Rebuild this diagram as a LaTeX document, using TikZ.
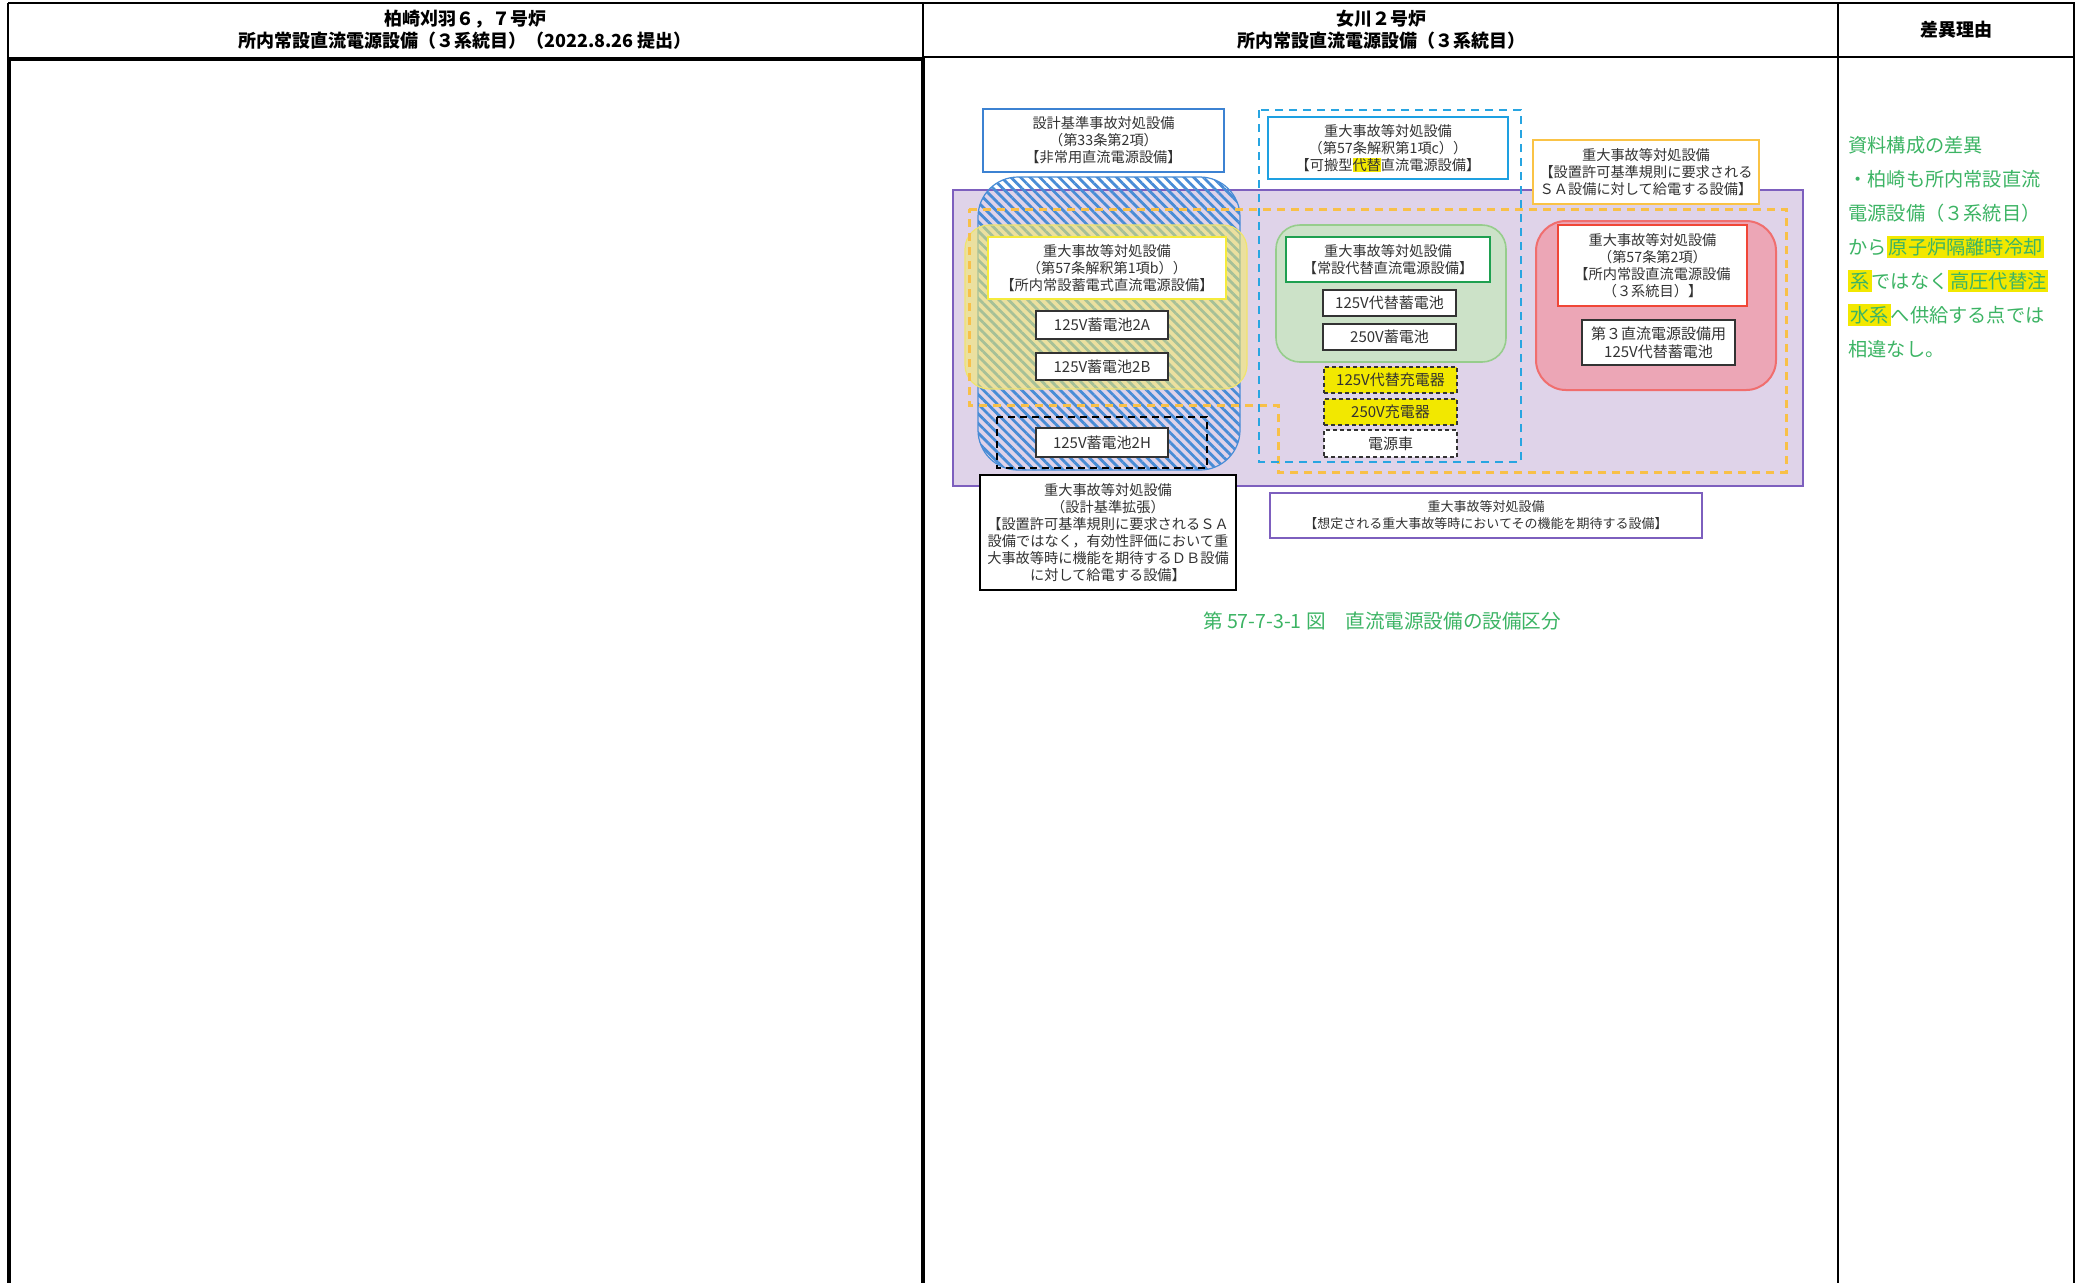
\documentclass[tikz,border=0pt]{standalone}
\usepackage{fontspec}
\setmainfont{Noto Sans CJK JP}
\usetikzlibrary{patterns.meta}
\definecolor{purplefill}{RGB}{223,211,233}
\definecolor{purpleline}{RGB}{125,95,190}
\definecolor{hatchblue}{RGB}{72,140,214}
\definecolor{yellowfill}{RGB}{245,236,100}
\definecolor{yellowline}{RGB}{240,228,110}
\definecolor{orangedash}{RGB}{248,192,72}
\definecolor{cyandash}{RGB}{40,165,225}
\definecolor{greenfill}{RGB}{204,226,200}
\definecolor{greenline}{RGB}{150,205,140}
\definecolor{redfill}{RGB}{236,166,182}
\definecolor{redline}{RGB}{240,110,110}
\definecolor{boxblue}{RGB}{60,130,210}
\definecolor{boxcyan}{RGB}{30,160,225}
\definecolor{boxorange}{RGB}{250,195,70}
\definecolor{boxyellow}{RGB}{245,235,60}
\definecolor{boxgreen}{RGB}{30,160,80}
\definecolor{boxred}{RGB}{240,70,55}
\definecolor{txt}{RGB}{50,50,50}
\definecolor{hl}{RGB}{242,232,0}
\definecolor{capgreen}{RGB}{60,180,100}
\newcommand{\myhl}[1]{{\setlength{\fboxsep}{1pt}\colorbox{hl}{#1}}}
\newcommand{\myhlz}[1]{{\setlength{\fboxsep}{0pt}\colorbox{hl}{#1}}}
\begin{document}
\begin{tikzpicture}[x=0.5pt,y=-0.5pt,
  every node/.style={inner sep=0pt},
  dtext/.style={font=\fontsize{7.1}{8.5}\selectfont, text=txt, align=center},
  tbox/.style={dtext, draw, fill=white, line width=1pt},
  itembox/.style={dtext, draw=black!80, fill=white, line width=0.7pt, font=\fontsize{7.5}{9}\selectfont},
  chgbox/.style={itembox, dashed, dash pattern=on 2pt off 1.5pt},
  head/.style={font=\fontsize{9}{11}\selectfont\bfseries, text=black, align=center},
  note/.style={font=\fontsize{9.6}{11}\selectfont, text=capgreen, anchor=west}
]
\useasboundingbox (0,0) rectangle (2078,1282);
\fill[white] (0,0) rectangle (2078,1282);

% ---------------- table ----------------
\draw[line width=0.75pt] (8,3) -- (2075,3);
\draw[line width=0.75pt] (8,3) -- (8,60);
\draw[line width=0.75pt] (923,3) -- (923,60);
\draw[line width=0.6pt] (1838,3) -- (1838,1290);
\draw[line width=0.75pt] (2074,3) -- (2074,1290);
\draw[line width=0.75pt] (923,57) -- (2075,57);
\draw[line width=2pt] (9,1290) -- (9,59) -- (923,59) -- (923,1290);

\node[head] (h1) at (465,30) {柏崎刈羽６，７号炉\\所内常設直流電源設備（３系統目）（2022.8.26 提出）};
\node[head] (h2) at (1381,30) {女川２号炉\\所内常設直流電源設備（３系統目）};
\node[head] (h3) at (1956,30) {差異理由};

% ---------------- diagram backgrounds ----------------
\draw[purpleline, fill=purplefill, line width=1pt] (953,190) rectangle (1803,486);
\draw[hatchblue, line width=0.6pt, rounded corners=20pt,
      pattern={Lines[angle=-45,distance=3.4pt,line width=1.4pt]}, pattern color=hatchblue]
      (978,177) rectangle (1240,470);
\draw[yellowline, line width=0.6pt, rounded corners=12pt, fill=yellowfill, fill opacity=0.55]
      (965,225) rectangle (1247,389);
\draw[greenline, fill=greenfill, line width=0.8pt, rounded corners=12pt] (1276,225) rectangle (1506,362);
\draw[redline, fill=redfill, line width=1pt, rounded corners=15pt] (1536,221) rectangle (1776,390);
\draw[orangedash, line width=1.5pt, dash pattern=on 4pt off 3pt]
      (969,209) -- (1786,209) -- (1786,472) -- (1278,472) -- (1278,405) -- (969,405) -- cycle;
\draw[cyandash, line width=1pt, dash pattern=on 4pt off 3pt] (1259,110) rectangle (1521,462);
\draw[black, line width=1pt, dash pattern=on 3.5pt off 2.5pt] (997,417) rectangle (1207,468);

% ---------------- boxes ----------------
\node[tbox, draw=boxblue, minimum width=120.5pt, minimum height=31.5pt] (dba) at (1103.5,140.5)
  {設計基準事故対処設備\\（第33条第2項）\\【非常用直流電源設備】};
\node[tbox, draw=boxcyan, minimum width=120pt, minimum height=31pt] (port) at (1388,148)
  {重大事故等対処設備\\（第57条解釈第1項c））\\【可搬型\myhlz{代替}直流電源設備】};
\node[tbox, draw=boxorange, minimum width=113pt, minimum height=32pt] (sa) at (1646,172)
  {重大事故等対処設備\\【設置許可基準規則に要求される\\ＳＡ設備に対して給電する設備】};
\node[tbox, draw=boxyellow, minimum width=119pt, minimum height=31pt] (stor) at (1107,268)
  {重大事故等対処設備\\（第57条解釈第1項b））\\【所内常設蓄電式直流電源設備】};
\node[itembox, minimum width=66pt, minimum height=14pt] (b2a) at (1102,325) {125V蓄電池2A};
\node[itembox, minimum width=66pt, minimum height=13.5pt] (b2b) at (1102,366.5) {125V蓄電池2B};
\node[itembox, minimum width=66pt, minimum height=14.5pt] (b2h) at (1102,442.5) {125V蓄電池2H};

\node[tbox, draw=boxgreen, minimum width=102pt, minimum height=22.5pt] (perm) at (1388,259.5)
  {重大事故等対処設備\\【常設代替直流電源設備】};
\node[itembox, minimum width=66.5pt, minimum height=13pt] (b125) at (1389.5,303) {125V代替蓄電池};
\node[itembox, minimum width=66.5pt, minimum height=13pt] (b250) at (1389.5,337) {250V蓄電池};
\node[chgbox, fill=hl, minimum width=66.5pt, minimum height=13pt] (c125) at (1390.5,380) {125V代替充電器};
\node[chgbox, fill=hl, minimum width=66.5pt, minimum height=13pt] (c250) at (1390.5,412) {250V充電器};
\node[chgbox, minimum width=66.5pt, minimum height=13.5pt] (car) at (1390.5,443.5) {電源車};

\node[tbox, draw=boxred, minimum width=94.5pt, minimum height=40.5pt] (third) at (1652.5,265.5)
  {重大事故等対処設備\\（第57条第2項）\\【所内常設直流電源設備\\（３系統目）】};
\node[itembox, minimum width=76.5pt, minimum height=22.5pt] (b3) at (1658.5,342.5)
  {第３直流電源設備用\\125V代替蓄電池};

\node[tbox, draw=black, line width=1.2pt, minimum width=128pt, minimum height=57.5pt] (ext) at (1108,532.5)
  {重大事故等対処設備\\（設計基準拡張）\\【設置許可基準規則に要求されるＳＡ\\設備ではなく，有効性評価において重\\大事故等時に機能を期待するＤＢ設備\\に対して給電する設備】};
\node[tbox, draw=purpleline, minimum width=216pt, minimum height=22.5pt,
      font=\fontsize{6.5}{8.5}\selectfont] (assumed) at (1486,515.5)
  {重大事故等対処設備\\【想定される重大事故等時においてその機能を期待する設備】};

\node[font=\fontsize{9.8}{11}\selectfont, text=capgreen] (cap) at (1382,621)
  {第 57-7-3-1 図　直流電源設備の設備区分};

% ---------------- reason column ----------------
\node[note] (n1) at (1848,145) {資料構成の差異};
\node[note] (n2) at (1848,179) {・柏崎も所内常設直流};
\node[note] (n3) at (1848,213) {電源設備（３系統目）};
\node[note] (n4) at (1848,247) {から\myhl{原子炉隔離時冷却}};
\node[note] (n5) at (1848,281) {\myhl{系}ではなく\myhl{高圧代替注}};
\node[note] (n6) at (1848,315) {\myhl{水系}へ供給する点では};
\node[note] (n7) at (1848,349) {相違なし。};
\end{tikzpicture}
\end{document}
